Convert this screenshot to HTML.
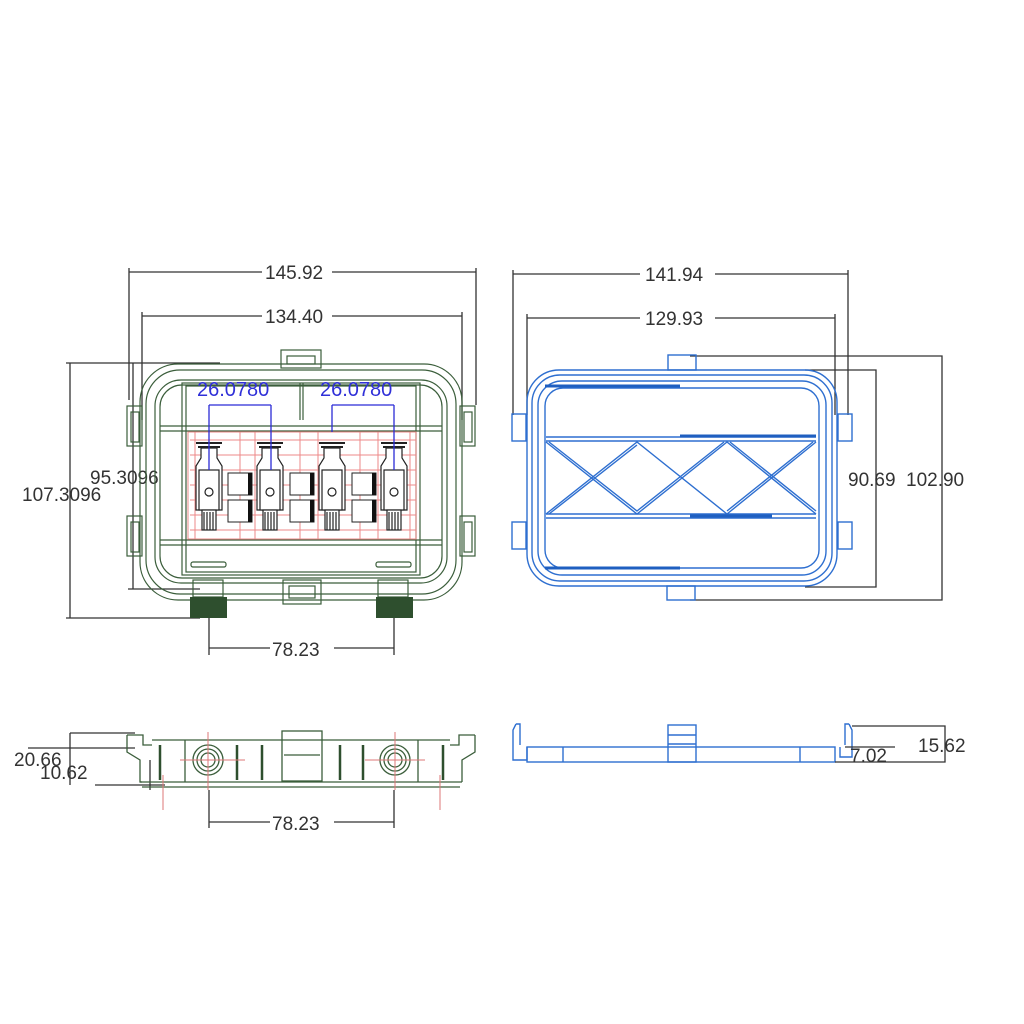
<!DOCTYPE html>
<html><head><style>
html,body{margin:0;padding:0;background:#fff;}
svg{display:block;}
text{font-family:"Liberation Sans",sans-serif;font-size:19px;fill:#333;}
</style></head><body>
<svg width="1024" height="1024" viewBox="0 0 1024 1024" xmlns="http://www.w3.org/2000/svg">
<rect width="1024" height="1024" fill="#fff"/>
<!-- ===== Top-left dimensions ===== -->
<g stroke="#333" stroke-width="1.3" fill="none">
<path d="M129 268V400 M476 268V405 M129 272H262 M332 272H476"/>
<path d="M142 312V420 M462 312V420 M142 316H262 M332 316H462"/>
<path d="M66 363H220 M70 363V618 M66 618H200"/>
<path d="M133 363V589 M128 589H200"/>
<path d="M209 612V655 M394 612V655 M209 648H270 M334 648H394"/>
</g>
<text x="265" y="279">145.92</text>
<text x="265" y="323">134.40</text>
<text x="22" y="501">107.3096</text>
<text x="90" y="484">95.3096</text>
<text x="272" y="656">78.23</text>
<!-- ===== Top-left body ===== -->
<g stroke="#3b5e3b" stroke-width="1.2" fill="none">
<rect x="281" y="350" width="40" height="18"/>
<rect x="287" y="356" width="28" height="8"/>
<rect x="140" y="364" width="322" height="236" rx="38"/>
<rect x="146" y="370" width="310" height="224" rx="34"/>
<rect x="155" y="380" width="292" height="203" rx="26"/>
<rect x="160" y="385" width="282" height="193" rx="22"/>
<rect x="182" y="383" width="238" height="192"/>
<rect x="186" y="386" width="230" height="186"/>
<path d="M160 426H442 M160 431H442 M160 540H442 M160 545H442 M300 383V420 M303 383V420"/>
<rect x="127" y="406" width="15" height="40"/><rect x="131" y="412" width="8" height="30"/>
<rect x="127" y="516" width="15" height="40"/><rect x="131" y="522" width="8" height="30"/>
<rect x="460" y="406" width="15" height="40"/><rect x="464" y="412" width="8" height="30"/>
<rect x="460" y="516" width="15" height="40"/><rect x="464" y="522" width="8" height="30"/>
<rect x="283" y="580" width="38" height="24"/><rect x="289" y="586" width="26" height="12"/>
<rect x="193" y="580" width="30" height="17"/><rect x="378" y="580" width="30" height="17"/>
<rect x="191" y="562" width="35" height="5" rx="2"/><rect x="376" y="562" width="35" height="5" rx="2"/>
</g>
<rect x="190" y="597" width="37" height="21" fill="#2e4f2e"/>
<rect x="376" y="597" width="37" height="21" fill="#2e4f2e"/>
<!-- red region -->
<g stroke="#e88" stroke-width="1" fill="none">
<rect x="188" y="432" width="228" height="107"/>
<path d="M190 440H416 M190 455H416 M190 470H416 M190 485H416 M190 500H416 M190 515H416 M190 530H416"/>
<path d="M195 432V539 M240 432V539 M255 432V539 M300 432V539 M318 432V539 M360 432V539 M378 432V539 M410 432V539"/>
</g>
<!-- black blocks -->
<g fill="#fff" stroke="#222" stroke-width="1">
<rect x="228" y="473" width="24" height="22"/><rect x="228" y="500" width="24" height="22"/>
<rect x="290" y="473" width="24" height="22"/><rect x="290" y="500" width="24" height="22"/>
<rect x="352" y="473" width="24" height="22"/><rect x="352" y="500" width="24" height="22"/>
</g>
<g fill="#111">
<rect x="248" y="473" width="4" height="22"/><rect x="248" y="500" width="4" height="22"/>
<rect x="310" y="473" width="4" height="22"/><rect x="310" y="500" width="4" height="22"/>
<rect x="372" y="473" width="4" height="22"/><rect x="372" y="500" width="4" height="22"/>
</g>
<!-- connectors -->
<g id="conn" stroke="#222" stroke-width="1.2" fill="#fff">
<path d="M196 443H222 M198 447H220" stroke-width="2"/>
<path d="M201 448V458L196 466V510H222V466L217 458V448Z"/>
<rect x="199" y="470" width="20" height="40"/>
<rect x="202" y="510" width="14" height="20"/>
<path d="M204 512V530 M207 512V530 M210 512V530 M213 512V530"/>
<circle cx="209" cy="492" r="4"/>
</g>
<use href="#conn" x="61"/><use href="#conn" x="123"/><use href="#conn" x="185"/>
<!-- blue dims -->
<g stroke="#2b2bd6" stroke-width="1.3" fill="none">
<path d="M209 405V470 M271 405V470 M209 405H271 M332 405V432 M394 405V470 M332 405H394"/>
</g>
<text x="197" y="396" style="fill:#3030d8;font-size:20px">26.0780</text>
<text x="320" y="396" style="fill:#3030d8;font-size:20px">26.0780</text>
<!-- ===== Top-right dims ===== -->
<g stroke="#333" stroke-width="1.3" fill="none">
<path d="M513 270V415 M848 270V415 M513 274H640 M715 274H848"/>
<path d="M527 314V415 M835 314V415 M527 318H640 M715 318H835"/>
<path d="M690 356H942V600H690 M805 370H876V587H805"/>
</g>
<text x="645" y="281">141.94</text>
<text x="645" y="325">129.93</text>
<text x="848" y="486">90.69</text>
<text x="906" y="486">102.90</text>
<!-- ===== Top-right blue body ===== -->
<g stroke="#2e6fd0" stroke-width="1.4" fill="none">
<rect x="527" y="370" width="310" height="216" rx="32"/>
<rect x="532" y="375" width="300" height="206" rx="28"/>
<rect x="538" y="381" width="288" height="194" rx="24"/>
<rect x="545" y="388" width="274" height="180" rx="18"/>
<path d="M546 437H816 M546 441H816 M546 514H816 M546 518H816"/>
<path d="M546 442L637 514L727 442L816 514 M549 442L637 511L724 442 M546 514L637 442L727 514L816 442 M549 514L637 445 M727 511L813 442 M730 442L816 511"/>
<rect x="668" y="355" width="28" height="15"/><rect x="667" y="586" width="28" height="14"/>
<rect x="512" y="414" width="14" height="27"/><rect x="512" y="522" width="14" height="27"/>
<rect x="838" y="414" width="14" height="27"/><rect x="838" y="522" width="14" height="27"/>
</g>
<g stroke="#1f5fc0" stroke-width="3"><path d="M545 386H680 M680 436H816 M690 516H772 M545 568H680"/></g>
<!-- ===== Bottom-left side view ===== -->
<g stroke="#333" stroke-width="1.3" fill="none">
<path d="M28 748H135 M70 733H135 M70 733V785 M95 785H165 M150 760V790"/>
<path d="M209 790V828 M394 790V828 M209 822H270 M334 822H394"/>
</g>
<text x="14" y="766">20.66</text>
<text x="40" y="779">10.62</text>
<text x="272" y="830">78.23</text>
<g stroke="#3b5e3b" stroke-width="1.3" fill="none">
<path d="M127 735V752L140 760V782H142 M127 735H143V745H152"/>
<path d="M475 735V752L462 760V782 M475 735H459V745H450"/>
<path d="M152 740H450 M140 782H462 M142 787H460"/>
<rect x="282" y="731" width="40" height="50"/>
<path d="M284 755H320 M185 740V782 M418 740V782"/>
<circle cx="208" cy="760" r="15"/><circle cx="208" cy="760" r="11"/><circle cx="208" cy="760" r="7"/>
<circle cx="395" cy="760" r="15"/><circle cx="395" cy="760" r="11"/><circle cx="395" cy="760" r="7"/>
</g>
<g stroke="#2e4f2e" stroke-width="2.5"><path d="M160 745V780 M237 745V780 M262 745V780 M340 745V780 M363 745V780 M443 745V780"/></g>
<g stroke="#d77" stroke-width="1"><path d="M208 732V790 M395 732V790 M180 760H245 M365 760H425 M163 775V810 M440 775V810"/></g>
<!-- ===== Bottom-right side view ===== -->
<g stroke="#2e6fd0" stroke-width="1.4" fill="none">
<path d="M516 724L513 730V760H527V747 M516 724H520V745"/>
<path d="M849 724L852 730V757H840V747 M849 724H845V745"/>
<rect x="527" y="747" width="308" height="15"/>
<rect x="668" y="725" width="28" height="37"/>
<path d="M668 735H696 M668 744H696 M563 747V762 M800 747V762"/>
</g>
<g stroke="#333" stroke-width="1.3" fill="none">
<path d="M852 726H945V762H835 M845 747H895"/>
</g>
<text x="850" y="762">7.02</text>
<text x="918" y="752">15.62</text>
</svg>
</body></html>
